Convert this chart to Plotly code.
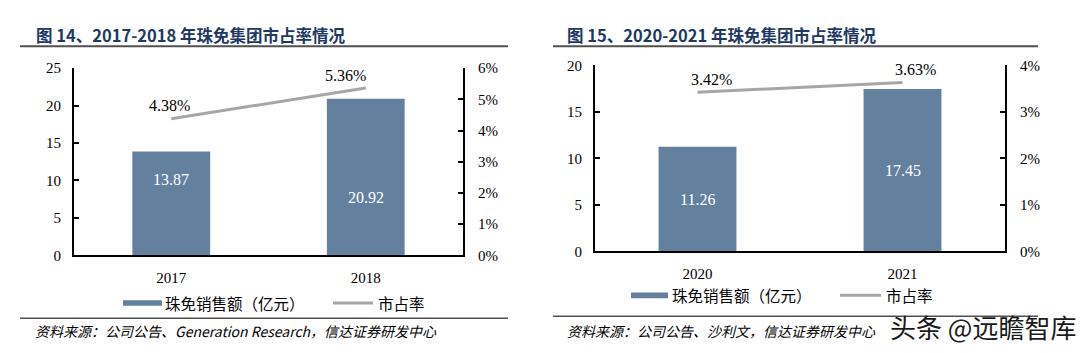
import plotly.graph_objects as go

# ---- data ----
years_a = ["2017", "2018"]
sales_a = [13.87, 20.92]          # 珠免销售额（亿元）
share_a = [0.0438, 0.0536]        # 市占率
years_b = ["2020", "2021"]
sales_b = [11.26, 17.45]
share_b = [0.0342, 0.0363]

title_a = "图 14、2017-2018 年珠免集团市占率情况"
title_b = "图 15、2020-2021 年珠免集团市占率情况"
legend_bar = "珠免销售额（亿元）"
legend_line = "市占率"
source_a = "资料来源：公司公告、Generation Research，信达证券研发中心"
source_b = "资料来源：公司公告、沙利文，信达证券研发中心"
watermark = "头条 @远瞻智库"

# ---- style ----
W, H = 1080, 353
def px(x): return x / W
def py(y): return 1 - y / H

BAR = "#64809F"
LINE = "#A6A6A6"
SERIF = "Liberation Serif, Times New Roman, serif"
CJK = "Noto Sans CJK SC, sans-serif"
TITLE_C = "#203864"
bar_label_frac_a = [0.73, 0.37]   # label placement inside bars (fraction of bar height)
bar_label_frac_b = [0.5, 0.5]
line_label_xshift_a = [-2, -20]
line_label_xshift_b = [14, 13]

fig = go.Figure()
fig.add_trace(go.Bar(x=years_a, y=sales_a, marker=dict(color=BAR, line=dict(width=0)),
                     width=0.4, xaxis="x", yaxis="y", hoverinfo="skip"))
fig.add_trace(go.Scatter(x=years_a, y=share_a, mode="lines", line=dict(color=LINE, width=3),
                         xaxis="x", yaxis="y2", hoverinfo="skip"))
fig.add_trace(go.Bar(x=years_b, y=sales_b, marker=dict(color=BAR, line=dict(width=0)),
                     width=0.38, xaxis="x2", yaxis="y3", hoverinfo="skip"))
fig.add_trace(go.Scatter(x=years_b, y=share_b, mode="lines", line=dict(color=LINE, width=3),
                         xaxis="x2", yaxis="y4", hoverinfo="skip"))

axis_common = dict(showline=True, linecolor="black", linewidth=2, showgrid=False, zeroline=False,
                   tickfont=dict(family=SERIF, size=15, color="black"))
yax = dict(axis_common, ticks="inside", ticklen=5, tickwidth=2, tickcolor="black")

fig.update_layout(
    width=W, height=H, margin=dict(l=0, r=0, t=0, b=0),
    paper_bgcolor="white", plot_bgcolor="white", showlegend=False,
    xaxis=dict(axis_common, domain=[px(74), px(463)], anchor="y", type="category",
               range=[-0.5, 1.5], ticks="", ticklabelstandoff=8),
    yaxis=dict(yax, domain=[py(259), py(63)], anchor="x", range=[0, 25], dtick=5,
               ticklabelstandoff=8),
    yaxis2=dict(yax, overlaying="y", side="right", anchor="x", range=[0, 0.06], dtick=0.01,
                tickformat=".0%", ticklabelstandoff=10),
    xaxis2=dict(axis_common, domain=[px(595), px(1005)], anchor="y3", type="category",
                range=[-0.5, 1.5], ticks="", ticklabelstandoff=8),
    yaxis3=dict(yax, domain=[py(255), py(60)], anchor="x2", range=[0, 20], dtick=5,
                ticklabelstandoff=8),
    yaxis4=dict(yax, overlaying="y3", side="right", anchor="x2", range=[0, 0.04], dtick=0.01,
                tickformat=".0%", ticklabelstandoff=10),
)

ann = []
shapes = []
# bar value labels (x given as category index)
for ys, fr, xr, yr in [(sales_a, bar_label_frac_a, "x", "y"),
                       (sales_b, bar_label_frac_b, "x2", "y3")]:
    for i, (v, f) in enumerate(zip(ys, fr)):
        ann.append(dict(x=i, y=v * f, xref=xr, yref=yr, text=f"{v:.2f}", showarrow=False,
                        font=dict(family=SERIF, size=16, color="white")))
# line value labels
for ys, sh, xr, yr in [(share_a, line_label_xshift_a, "x", "y2"),
                       (share_b, line_label_xshift_b, "x2", "y4")]:
    for i, (v, s) in enumerate(zip(ys, sh)):
        ann.append(dict(x=i, y=v, xref=xr, yref=yr, text=f"{v*100:.2f}%", showarrow=False,
                        yshift=13, xshift=s, font=dict(family=SERIF, size=16, color="black")))

# titles, rules, legends, sources
panels = [
    dict(title=title_a, tx=34, rule=(20, 508), ty=28, ry=40, by=325, sx=33, sy=338, src=source_a,
         leg_y=309, rect=(123, 162), ltext=163, line=(333, 373), ltext2=376),
    dict(title=title_b, tx=565, rule=(553, 1038), ty=28, ry=40, by=323, sx=565, sy=338, src=source_b,
         leg_y=301, rect=(631, 668), ltext=670, line=(840, 881), ltext2=884),
]
for p in panels:
    ann.append(dict(x=px(p["tx"]), y=py(p["ty"]), xref="paper", yref="paper", xanchor="left",
                    yanchor="middle", text=f"<b>{p['title']}</b>", showarrow=False,
                    font=dict(family=CJK, size=16.5, color=TITLE_C)))
    shapes.append(dict(type="line", xref="paper", yref="paper", x0=px(p["rule"][0]), x1=px(p["rule"][1]),
                       y0=py(p["ry"]), y1=py(p["ry"]), line=dict(color="#505050", width=2)))
    shapes.append(dict(type="line", xref="paper", yref="paper", x0=px(p["rule"][0]), x1=px(p["rule"][1]),
                       y0=py(p["by"]), y1=py(p["by"]), line=dict(color="#505050", width=1.5)))
    ann.append(dict(x=px(p["sx"]), y=py(p["sy"]), xref="paper", yref="paper", xanchor="left",
                    yanchor="middle", text=f"<i>{p['src']}</i>", showarrow=False,
                    font=dict(family=CJK, size=14, color="black")))
    ly = p["leg_y"]
    shapes.append(dict(type="rect", xref="paper", yref="paper", x0=px(p["rect"][0]), x1=px(p["rect"][1]),
                       y0=py(ly + 3), y1=py(ly - 3), fillcolor=BAR, line=dict(width=0)))
    shapes.append(dict(type="line", xref="paper", yref="paper", x0=px(p["line"][0]), x1=px(p["line"][1]),
                       y0=py(ly), y1=py(ly), line=dict(color=LINE, width=3)))
    ann.append(dict(x=px(p["ltext"]), y=py(ly), xref="paper", yref="paper", xanchor="left",
                    yanchor="middle", text=legend_bar, showarrow=False,
                    font=dict(family=CJK, size=15.5, color="black")))
    ann.append(dict(x=px(p["ltext2"]), y=py(ly), xref="paper", yref="paper", xanchor="left",
                    yanchor="middle", text=legend_line, showarrow=False,
                    font=dict(family=CJK, size=15.5, color="black")))

ann.append(dict(x=px(1077), y=py(334), xref="paper", yref="paper", xanchor="right", yanchor="middle",
                text=watermark, showarrow=False, borderpad=0,
                font=dict(family=CJK, size=26, color="#1a1a1a")))

fig.update_layout(annotations=ann, shapes=shapes)
fig.write_html("out.html")
